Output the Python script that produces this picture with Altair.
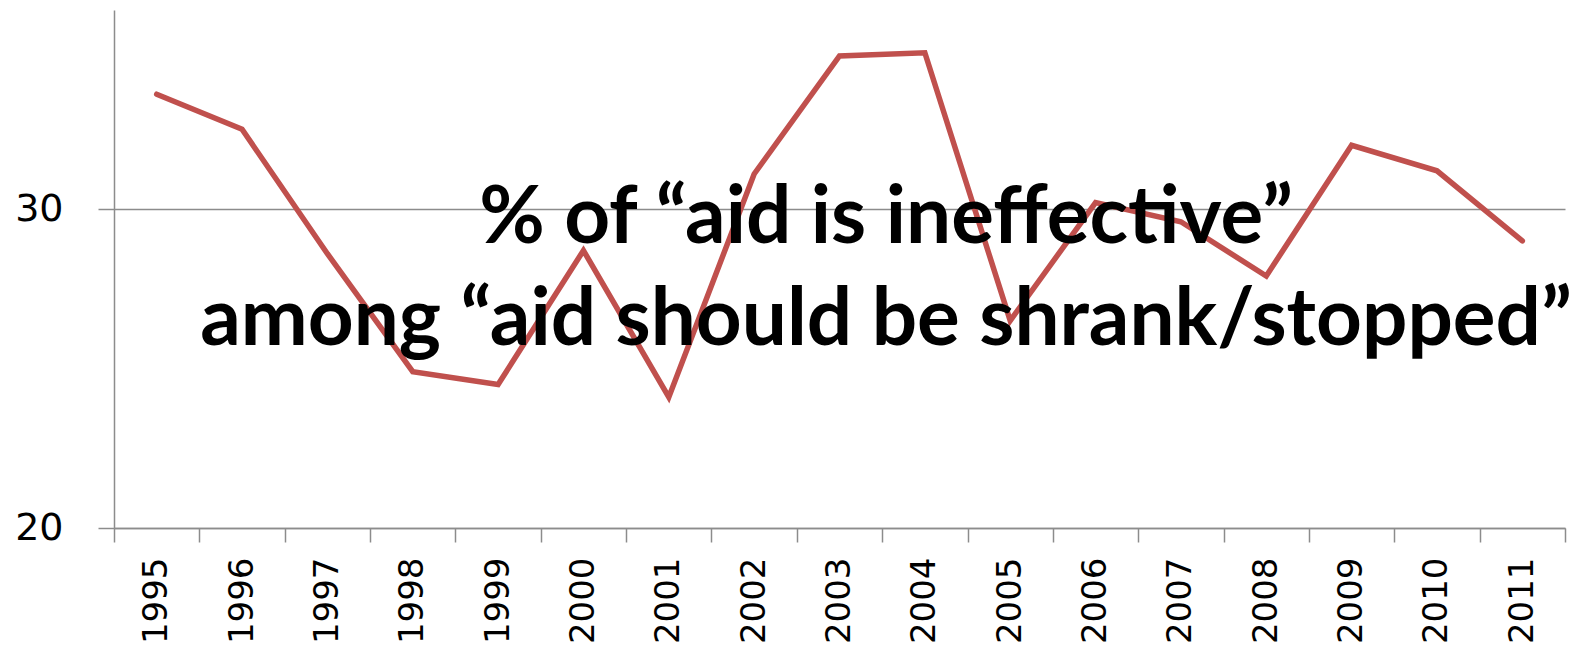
import altair as alt
import pandas as pd

# Survey years and share (%) saying aid is ineffective
years = ["1995", "1996", "1997", "1998", "1999", "2000", "2001", "2002", "2003",
         "2004", "2005", "2006", "2007", "2008", "2009", "2010", "2011"]
share = [33.6, 32.5, 28.6, 24.9, 24.5, 28.7, 24.1, 31.1, 34.8,
         34.9, 26.5, 30.2, 29.6, 27.9, 32.0, 31.2, 29.0]

y_ticks = [20, 30]
title_lines = ["% of “aid is ineffective”", "among “aid should be shrank/stopped”"]

df = pd.DataFrame({"year": years, "share": share})

AXIS_GRAY = "#8c8c8c"
LINE_RED = "#C0504D"

x_enc = alt.X(
    "year:O",
    scale=alt.Scale(type="band", paddingInner=0, paddingOuter=0),
    axis=alt.Axis(
        title=None,
        labelAngle=270,
        labelFont="DejaVu Sans",
        labelFontSize=34,
        labelColor="black",
        labelPadding=15,
        tickBand="extent",
        tickSize=14,
        tickWidth=1.5,
        tickColor=AXIS_GRAY,
        domainColor=AXIS_GRAY,
        domainWidth=1.5,
        grid=False,
    ),
)

y_enc = alt.Y(
    "share:Q",
    scale=alt.Scale(domain=[20, 36.24], nice=False, zero=False),
    axis=alt.Axis(
        title=None,
        values=y_ticks,
        labelFont="DejaVu Sans",
        labelFontSize=38,
        labelColor="black",
        labelPadding=35,
        tickSize=16,
        tickWidth=1.5,
        tickColor=AXIS_GRAY,
        domainColor=AXIS_GRAY,
        domainWidth=1.5,
        grid=True,
        gridColor=AXIS_GRAY,
        gridWidth=1.5,
    ),
)

line = alt.Chart(df).mark_line(
    color=LINE_RED, strokeWidth=5.5, strokeCap="round"
).encode(x=x_enc, y=y_enc)


def title_text(text, baseline_y):
    return alt.Chart(alt.Data(values=[{"t": text}])).mark_text(
        font="Lato",
        fontWeight="bold",
        fontSize=80,
        color="black",
        align="center",
        baseline="alphabetic",
    ).encode(text="t:N", x=alt.value(772), y=alt.value(baseline_y))


chart = alt.layer(
    line,
    title_text(title_lines[0], 233),
    title_text(title_lines[1], 335),
).properties(
    width=1451,
    height=518,
    autosize=alt.AutoSizeParams(type="none"),
    padding={"left": 114, "top": 10, "right": 10, "bottom": 121},
).configure_view(stroke=None)

chart.save("out.html", embed_options={"renderer": "svg", "actions": False})
